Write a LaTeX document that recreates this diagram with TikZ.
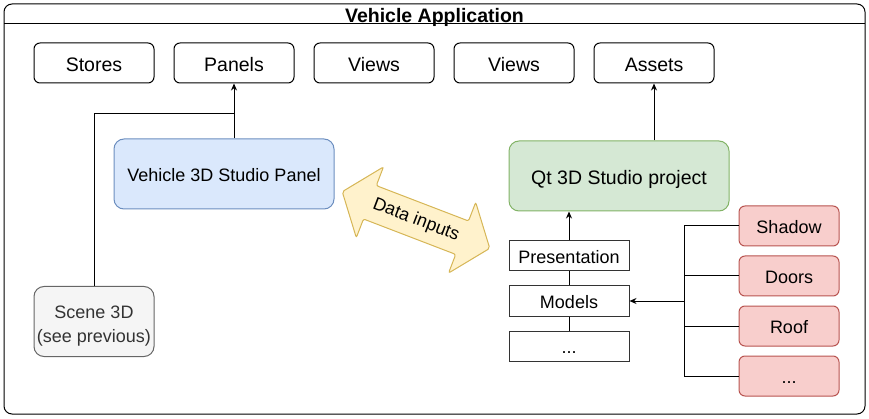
\documentclass[tikz,border=0pt]{standalone}
\usepackage{fontspec}
\setmainfont{Liberation Sans}
\usetikzlibrary{arrows.meta,shapes.arrows}

\definecolor{panelfill}{HTML}{DAE8FC}
\definecolor{paneldraw}{HTML}{6C8EBF}
\definecolor{qtfill}{HTML}{D5E8D4}
\definecolor{qtdraw}{HTML}{82B366}
\definecolor{partfill}{HTML}{F8CECC}
\definecolor{partdraw}{HTML}{B85450}
\definecolor{datafill}{HTML}{FFF2CC}
\definecolor{datadraw}{HTML}{D6B656}
\definecolor{scenefill}{HTML}{F5F5F5}
\definecolor{scenedraw}{HTML}{666666}
\definecolor{scenetext}{HTML}{333333}

\begin{document}
\begin{tikzpicture}[x=1pt, y=-1pt, line width=1pt,
    big/.style={font=\fontsize{19.5}{23}\selectfont, text height=19pt, text depth=2pt},
    small/.style={font=\fontsize{18}{24}\selectfont, text height=18pt, text depth=2.2pt},
    appbox/.style={draw, big, rounded corners=6pt, minimum width=120pt, minimum height=40pt, inner sep=0pt},
    layer/.style={draw=black!80, small, minimum width=120pt, minimum height=30pt, inner sep=0pt},
    part/.style={draw=partdraw, fill=partfill, small, rounded corners=6pt, minimum width=100pt, minimum height=40pt, inner sep=0pt},
    arr/.style={-{Stealth[length=7pt,width=6pt]}}]

    \useasboundingbox (0,0) rectangle (869,419);

    % Application frame
    \draw[rounded corners=8pt] (4,4) rectangle (865,414);
    \draw (4,24) -- (865,24);
    \node[big, font=\fontsize{19.5}{23}\selectfont\bfseries, inner sep=0pt] (title) at (434.5,14.5) {Vehicle Application};

    % Top row
    \node[appbox] (stores) at (94,63) {Stores};
    \node[appbox] (panels) at (234,63) {Panels};
    \node[appbox] (views1) at (374,63) {Views};
    \node[appbox] (views2) at (514,63) {Views};
    \node[appbox] (assets) at (654,63) {Assets};

    % Left side
    \node[draw=paneldraw, fill=panelfill, small, rounded corners=10pt, minimum width=220pt, minimum height=70pt] (vpanel) at (224,174) {Vehicle 3D Studio Panel};
    \node[draw=scenedraw, fill=scenefill, text=scenetext, small, text height=45pt, text depth=, align=center, rounded corners=10pt, minimum width=120pt, minimum height=70pt, inner sep=0pt] (scene) at (94,321.5) {Scene 3D\\(see previous)};
    \coordinate (join) at (234,114);

    \draw[arr] (vpanel.north -| panels) -- (panels.south);
    \draw (scene.north) |- (join);

    % Data inputs
    \node[double arrow, draw=datadraw, fill=datafill, small, text height=, text depth=, rotate=-21, rounded corners=2pt,
        minimum height=158pt, inner xsep=2pt, inner ysep=9pt,
        double arrow head extend=20pt, double arrow tip angle=104] (data) at (416,220) {Data inputs};

    % Right side
    \node[draw=qtdraw, fill=qtfill, big, rounded corners=10pt, minimum width=220pt, minimum height=70pt] (qt) at (619,176) {Qt 3D Studio project};
    \node[layer] (presentation) at (569,256) {Presentation};
    \node[layer] (models) at (569,301) {Models};
    \node[layer] (more) at (569,346) {...};

    \draw[arr] (qt.north -| assets) -- (assets.south);
    \draw[arr] (presentation.north) -- (presentation.north |- qt.south);
    \draw (presentation.south) -- (models.north);
    \draw (models.south) -- (more.north);

    % Parts
    \node[part] (shadow) at (789,226) {Shadow};
    \node[part] (doors) at (789,276) {Doors};
    \node[part] (roof) at (789,326) {Roof};
    \node[part] (parts) at (789,376) {...};
    \coordinate (bus) at (684,301);

    \draw (shadow.west) -| (bus);
    \draw (doors.west) -| (bus);
    \draw (roof.west) -| (bus);
    \draw (parts.west) -| (bus);
    \draw[arr] (bus) -- (models.east);
\end{tikzpicture}
\end{document}
